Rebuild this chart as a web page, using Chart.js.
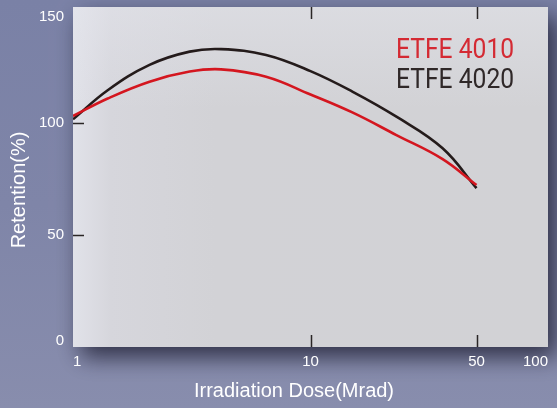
<!DOCTYPE html>
<html>
<head>
<meta charset="utf-8">
<script src="https://cdn.jsdelivr.net/npm/chart.js@4.4.1/dist/chart.umd.min.js"></script>
<style>
html,body{margin:0;padding:0;background:#7f85a7;}
#wrap{width:557px;height:408px;position:relative;}
</style>
</head>
<body>
<div id="wrap"><canvas id="c" width="557" height="408"></canvas></div>
<script>
// ---- data ----
const doseMrad = [1, 1.4, 2.1, 3.1, 4.2, 6.5, 10, 15, 23, 36, 50];
const etfe4010 = [103, 110.8, 118.3, 122.8, 123.8, 120.5, 112.6, 104.6, 94.5, 83.8, 72.2];
const etfe4020 = [101.5, 114.5, 125.8, 131.7, 132.8, 130.2, 123, 113.9, 102.7, 88.6, 70.8];
const seriesNames = ['ETFE 4010', 'ETFE 4020'];
const xTickValues = [1, 10, 50, 100];
const yTickValues = [0, 50, 100, 150];
const innerXTicks = [10, 50];
const innerYTicks = [50, 100];
const xTitle = 'Irradiation Dose(Mrad)';
const yTitle = 'Retention(%)';

const RED = '#d4161f';
const DARK = '#241b1b';
const FONT = "'Liberation Sans', Arial, sans-serif";

const bgPlugin = {
  id: 'bg',
  beforeDraw(chart) {
    const {ctx, width, height, chartArea: a} = chart;
    // nudge the outermost y labels inward like the reference
    const items = chart.scales.y.getLabelItems(a);
    if (items.length) {
      items[0].options.translation[1] -= 6;
      items[items.length - 1].options.translation[1] += 6;
    }
    ctx.save();
    let g = ctx.createLinearGradient(0, 0, 0, height);
    g.addColorStop(0, '#7a81a6');
    g.addColorStop(0.5, '#7f85a8');
    g.addColorStop(1, '#888dad');
    ctx.fillStyle = g;
    ctx.fillRect(0, 0, width, height);
    // shadow of plot panel
    ctx.shadowColor = 'rgba(25,25,45,0.8)';
    ctx.shadowBlur = 22;
    ctx.shadowOffsetX = 8;
    ctx.shadowOffsetY = 10;
    ctx.fillStyle = '#d2d2d6';
    ctx.fillRect(a.left, a.top, a.right - a.left, a.bottom - a.top);
    ctx.shadowColor = 'transparent';
    // panel fill
    let pg = ctx.createLinearGradient(a.left, 0, a.right, 0);
    pg.addColorStop(0, '#e1e2e9');
    pg.addColorStop(0.08, '#d6d6dc');
    pg.addColorStop(0.3, '#d2d2d6');
    pg.addColorStop(1, '#d2d2d5');
    ctx.fillStyle = pg;
    ctx.fillRect(a.left, a.top, a.right - a.left, a.bottom - a.top);
    let vg = ctx.createLinearGradient(0, a.top, 0, a.bottom);
    vg.addColorStop(0, 'rgba(230,231,238,0.45)');
    vg.addColorStop(0.3, 'rgba(230,231,238,0)');
    ctx.fillStyle = vg;
    ctx.fillRect(a.left, a.top, a.right - a.left, a.bottom - a.top);
    ctx.restore();
  },
  afterDatasetsDraw(chart) {
    const {ctx, chartArea: a, scales} = chart;
    ctx.save();
    ctx.strokeStyle = '#2a2626';
    ctx.lineWidth = 1.5;
    ctx.beginPath();
    innerXTicks.forEach(v => {
      const px = Math.round(scales.x.getPixelForValue(v)) + 0.5;
      ctx.moveTo(px, a.bottom); ctx.lineTo(px, a.bottom - 12);
      ctx.moveTo(px, a.top); ctx.lineTo(px, a.top + 12);
    });
    innerYTicks.forEach(v => {
      const py = Math.round(scales.y.getPixelForValue(v)) + 0.5;
      ctx.moveTo(a.left, py); ctx.lineTo(a.left + 11, py);
    });
    ctx.stroke();
    // legend text
    ctx.textBaseline = 'alphabetic';
    ctx.textAlign = 'left';
    ctx.font = "28px Roboto, 'Noto Sans', sans-serif";
    ctx.save();
    ctx.translate(396, 0);
    ctx.scale(0.88, 1);
    ctx.fillStyle = '#d42a33';
    ctx.fillText(seriesNames[0], 0, 58);
    ctx.fillStyle = '#2f2828';
    ctx.fillText(seriesNames[1], 0, 88);
    ctx.restore();
    // axis titles
    ctx.fillStyle = '#ffffff';
    ctx.font = "20px " + FONT;
    ctx.textAlign = 'center';
    ctx.textBaseline = 'middle';
    ctx.fillText(xTitle, 294, 391);
    ctx.translate(19, 190);
    ctx.rotate(-Math.PI / 2);
    ctx.fillText(yTitle, 0, 0);
    ctx.restore();
  }
};

new Chart(document.getElementById('c'), {
  type: 'line',
  data: {
    datasets: [
      {
        label: seriesNames[0],
        data: doseMrad.map((d, i) => ({x: d, y: etfe4010[i]})),
        borderColor: RED, borderWidth: 2.6, pointRadius: 0,
        tension: 0.4, fill: false
      },
      {
        label: seriesNames[1],
        data: doseMrad.map((d, i) => ({x: d, y: etfe4020[i]})),
        borderColor: DARK, borderWidth: 2.6, pointRadius: 0,
        tension: 0.4, fill: false
      }
    ]
  },
  options: {
    responsive: false,
    animation: false,
    events: [],
    layout: {padding: {top: 7, right: 9, left: 0, bottom: 0}},
    plugins: {legend: {display: false}, tooltip: {enabled: false}, title: {display: false}},
    scales: {
      x: {
        type: 'logarithmic', min: 1, max: 100,
        afterBuildTicks(s) { s.ticks = xTickValues.map(v => ({value: v})); },
        afterFit(s) { s.height = 61; s.paddingLeft = 0; s.paddingRight = 0; },
        grid: {display: false, drawTicks: false},
        border: {display: false},
        ticks: {
          color: '#ffffff', font: {size: 15, family: FONT}, padding: 6,
          maxRotation: 0, autoSkip: false, align: 'inner',
          callback: v => String(v)
        }
      },
      y: {
        type: 'linear', min: 0, max: 151.6,
        afterBuildTicks(s) { s.ticks = yTickValues.map(v => ({value: v})); },
        afterFit(s) { s.width = 73; s.paddingTop = 0; s.paddingBottom = 0; },
        grid: {display: false, drawTicks: false},
        border: {display: false},
        ticks: {
          color: '#ffffff', font: {size: 15, family: FONT}, padding: 9,
          callback: v => String(v)
        }
      }
    }
  },
  plugins: [bgPlugin]
});
</script>
</body>
</html>
